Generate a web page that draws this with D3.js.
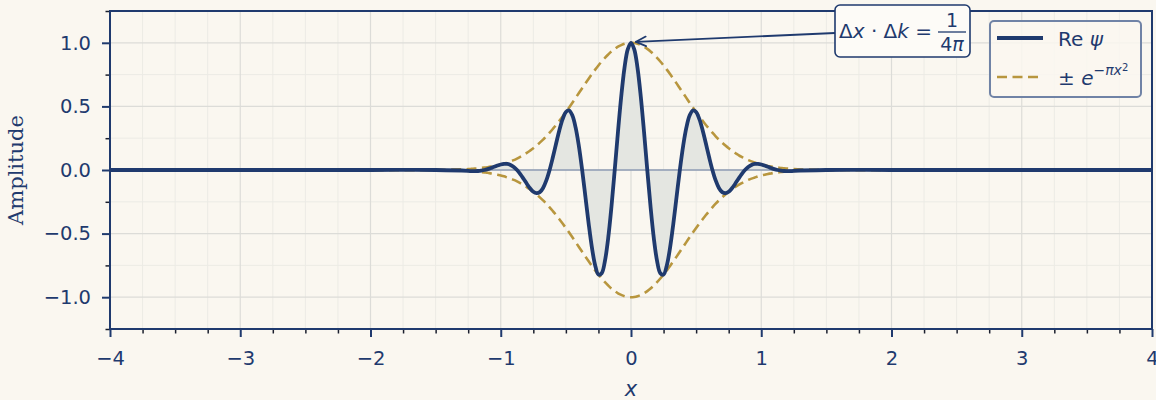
<!DOCTYPE html>
<html>
<head>
<meta charset="utf-8">
<script src="https://cdn.jsdelivr.net/npm/d3@7"></script>
<style>
  html, body { margin: 0; padding: 0; background: #faf7f0; }
  svg { display: block; }
  text { font-family: "DejaVu Sans", sans-serif; fill: #1f3a6e; }
</style>
</head>
<body>
<script>

// Sample positions along x (tails + dense middle)
const xValues = [
  -4, -3, -2, -1.5,
  -1.250, -1.225, -1.200, -1.175, -1.150, -1.125, -1.100, -1.075, -1.050, -1.025,
  -1.000, -0.975, -0.950, -0.925, -0.900, -0.875, -0.850, -0.825, -0.800, -0.775,
  -0.750, -0.725, -0.700, -0.675, -0.650, -0.625, -0.600, -0.575, -0.550, -0.525,
  -0.500, -0.475, -0.450, -0.425, -0.400, -0.375, -0.350, -0.325, -0.300, -0.275,
  -0.250, -0.225, -0.200, -0.175, -0.150, -0.125, -0.100, -0.075, -0.050, -0.025,
  0,
  0.025, 0.050, 0.075, 0.100, 0.125, 0.150, 0.175, 0.200, 0.225, 0.250,
  0.275, 0.300, 0.325, 0.350, 0.375, 0.400, 0.425, 0.450, 0.475, 0.500,
  0.525, 0.550, 0.575, 0.600, 0.625, 0.650, 0.675, 0.700, 0.725, 0.750,
  0.775, 0.800, 0.825, 0.850, 0.875, 0.900, 0.925, 0.950, 0.975, 1.000,
  1.025, 1.050, 1.075, 1.100, 1.125, 1.150, 1.175, 1.200, 1.225, 1.250,
  1.5, 2, 3, 4
];

// Re psi
const reValues = [
  0, 0, 0, 0,
  -0.007, -0.009, -0.009, -0.008, -0.005, 0, 0.007, 0.016, 0.025, 0.035,
  0.043, 0.048, 0.048, 0.040, 0.024, 0, -0.032, -0.069, -0.108, -0.144,
  -0.171, -0.182, -0.174, -0.141, -0.082, 0, 0.100, 0.208, 0.313, 0.400,
  0.456, 0.468, 0.428, 0.333, 0.187, 0, -0.210, -0.422, -0.610, -0.750,
  -0.822, -0.811, -0.714, -0.534, -0.288, 0, 0.300, 0.578, 0.803, 0.949,
  1.000,
  0.949, 0.803, 0.578, 0.300, 0, -0.288, -0.534, -0.714, -0.811, -0.822,
  -0.750, -0.610, -0.422, -0.210, 0, 0.187, 0.333, 0.428, 0.468, 0.456,
  0.400, 0.313, 0.208, 0.100, 0, -0.082, -0.141, -0.174, -0.182, -0.171,
  -0.144, -0.108, -0.069, -0.032, 0, 0.024, 0.040, 0.048, 0.048, 0.043,
  0.035, 0.025, 0.016, 0.007, 0, -0.005, -0.008, -0.009, -0.009, -0.007,
  0, 0, 0, 0
];

// Upper envelope (lower one is its mirror)
const envelopeValues = [
  0, 0, 0, 0.001,
  0.007, 0.009, 0.011, 0.013, 0.016, 0.019, 0.022, 0.027, 0.031, 0.037,
  0.043, 0.050, 0.059, 0.068, 0.078, 0.090, 0.103, 0.118, 0.134, 0.152,
  0.171, 0.192, 0.215, 0.239, 0.265, 0.293, 0.323, 0.354, 0.387, 0.421,
  0.456, 0.492, 0.529, 0.567, 0.605, 0.643, 0.681, 0.718, 0.754, 0.789,
  0.822, 0.853, 0.882, 0.908, 0.932, 0.952, 0.969, 0.982, 0.992, 0.998,
  1.000,
  0.998, 0.992, 0.982, 0.969, 0.952, 0.932, 0.908, 0.882, 0.853, 0.822,
  0.789, 0.754, 0.718, 0.681, 0.643, 0.605, 0.567, 0.529, 0.492, 0.456,
  0.421, 0.387, 0.354, 0.323, 0.293, 0.265, 0.239, 0.215, 0.192, 0.171,
  0.152, 0.134, 0.118, 0.103, 0.090, 0.078, 0.068, 0.059, 0.050, 0.043,
  0.037, 0.031, 0.027, 0.022, 0.019, 0.016, 0.013, 0.011, 0.009, 0.007,
  0.001, 0, 0, 0
];

// Tick values
const xTicks = [-4, -3, -2, -1, 0, 1, 2, 3, 4];
const xMinorTicks = [-3.75, -3.5, -3.25, -2.75, -2.5, -2.25, -1.75, -1.5, -1.25,
  -0.75, -0.5, -0.25, 0.25, 0.5, 0.75, 1.25, 1.5, 1.75, 2.25, 2.5, 2.75,
  3.25, 3.5, 3.75];
const yTicks = [-1.0, -0.5, 0.0, 0.5, 1.0];
const yMinorTicks = [-1.25, -0.75, -0.25, 0.25, 0.75, 1.25];

// Colours
const navy = "#1f3a6e";
const gold = "#b8963e";

// Svg size and plot area
const width = 1156;
const height = 400;
const plotLeft = 110, plotRight = 1152, plotTop = 11, plotBottom = 329;

const svg = d3.select("body").append("svg")
  .attr("width", width)
  .attr("height", height)
  .attr("viewBox", [0, 0, width, height]);

svg.append("rect").attr("width", width).attr("height", height).attr("fill", "#faf7f0");

const xScale = d3.scaleLinear().domain([-4, 4]).range([plotLeft, plotRight]);
const yScale = d3.scaleLinear().domain([-1.25, 1.25]).range([plotBottom, plotTop]);

const fmtMinus = s => s.replace("-", "\u2212");

// Grid lines (minor first, then major)
const grid = svg.append("g");
grid.selectAll(".gxm").data(xMinorTicks).enter().append("line")
  .attr("x1", d => xScale(d)).attr("x2", d => xScale(d))
  .attr("y1", plotTop).attr("y2", plotBottom)
  .attr("stroke", "#ecebe5").attr("stroke-width", 1);
grid.selectAll(".gym").data(yMinorTicks).enter().append("line")
  .attr("y1", d => yScale(d)).attr("y2", d => yScale(d))
  .attr("x1", plotLeft).attr("x2", plotRight)
  .attr("stroke", "#ecebe5").attr("stroke-width", 1);
grid.selectAll(".gx").data(xTicks).enter().append("line")
  .attr("x1", d => xScale(d)).attr("x2", d => xScale(d))
  .attr("y1", plotTop).attr("y2", plotBottom)
  .attr("stroke", "#dcdcd8").attr("stroke-width", 1.2);
grid.selectAll(".gy").data(yTicks).enter().append("line")
  .attr("y1", d => yScale(d)).attr("y2", d => yScale(d))
  .attr("x1", plotLeft).attr("x2", plotRight)
  .attr("stroke", "#dcdcd8").attr("stroke-width", 1.2);

// Data points
const points = xValues.map((x, i) => ({x: x, re: reValues[i], env: envelopeValues[i]}));

// Shaded area between curve and zero
const area = d3.area()
  .x(d => xScale(d.x))
  .y0(yScale(0))
  .y1(d => yScale(d.re))
  .curve(d3.curveCatmullRom);
svg.append("path").attr("d", area(points))
  .attr("fill", "#e4e6e1");

// Zero line
svg.append("line")
  .attr("x1", plotLeft).attr("x2", plotRight)
  .attr("y1", yScale(0)).attr("y2", yScale(0))
  .attr("stroke", "#8e9bb3").attr("stroke-width", 1.5);

// Envelopes
const envUp = d3.line().x(d => xScale(d.x)).y(d => yScale(d.env)).curve(d3.curveCatmullRom);
const envDown = d3.line().x(d => xScale(d.x)).y(d => yScale(-d.env)).curve(d3.curveCatmullRom);
[envUp, envDown].forEach(gen => {
  svg.append("path").attr("d", gen(points))
    .attr("fill", "none").attr("stroke", gold)
    .attr("stroke-width", 2.6).attr("stroke-dasharray", "10,5.5");
});

// Main curve
const line = d3.line().x(d => xScale(d.x)).y(d => yScale(d.re)).curve(d3.curveCatmullRom);
svg.append("path").attr("d", line(points))
  .attr("fill", "none").attr("stroke", navy)
  .attr("stroke-width", 3.8).attr("stroke-linejoin", "round");

// Axes
const xAxis = svg.append("g").attr("transform", `translate(0,${plotBottom})`)
  .call(d3.axisBottom(xScale).tickValues(xTicks).tickSize(8).tickPadding(14)
    .tickFormat(d => fmtMinus(d3.format("d")(d))));
const xAxisMinor = svg.append("g").attr("transform", `translate(0,${plotBottom})`)
  .call(d3.axisBottom(xScale).tickValues(xMinorTicks).tickSize(4.5).tickFormat(""));
const yAxis = svg.append("g").attr("transform", `translate(${plotLeft},0)`)
  .call(d3.axisLeft(yScale).tickValues(yTicks).tickSize(8).tickPadding(11)
    .tickFormat(d => fmtMinus(d3.format(".1f")(d))));
const yAxisMinor = svg.append("g").attr("transform", `translate(${plotLeft},0)`)
  .call(d3.axisLeft(yScale).tickValues(yMinorTicks).tickSize(4.5).tickFormat(""));

[xAxis, yAxis, xAxisMinor, yAxisMinor].forEach(g => g.select(".domain").remove());
[xAxis, yAxis].forEach(g => {
  g.selectAll(".tick line").attr("stroke", navy).attr("stroke-width", 2);
  g.selectAll(".tick text").attr("fill", navy)
    .style("font-size", "19.5px").style("font-family", "DejaVu Sans");
});
[xAxisMinor, yAxisMinor].forEach(g => {
  g.selectAll(".tick line").attr("stroke", "#1a1f2e").attr("stroke-width", 1.5);
});

// Spines
svg.append("rect")
  .attr("x", plotLeft).attr("y", plotTop)
  .attr("width", plotRight - plotLeft).attr("height", plotBottom - plotTop)
  .attr("fill", "none").attr("stroke", navy).attr("stroke-width", 2);

// Axis labels
svg.append("text")
  .attr("transform", `translate(23,${(plotTop + plotBottom) / 2}) rotate(-90)`)
  .attr("text-anchor", "middle")
  .style("font-family", "DejaVu Serif")
  .style("font-size", "21px")
  .text("Amplitude");

svg.append("text")
  .attr("x", xScale(0)).attr("y", 396)
  .attr("text-anchor", "middle")
  .style("font-size", "21px").style("font-style", "italic")
  .text("x");

// Annotation arrow from box to the peak
const tipX = xScale(0) + 5, tipY = yScale(1.0) - 1;
const boxX = 835, boxY = 5, boxW = 135, boxH = 52;
const tailX = boxX, tailY = 33;
svg.append("line")
  .attr("x1", tailX).attr("y1", tailY).attr("x2", tipX).attr("y2", tipY)
  .attr("stroke", navy).attr("stroke-width", 1.8);
const ang = Math.atan2(tipY - tailY, tipX - tailX);
[0.45, -0.45].forEach(a => {
  svg.append("line")
    .attr("x1", tipX).attr("y1", tipY)
    .attr("x2", tipX - 11 * Math.cos(ang + a)).attr("y2", tipY - 11 * Math.sin(ang + a))
    .attr("stroke", navy).attr("stroke-width", 1.8).attr("stroke-linecap", "round");
});

// Annotation box
svg.append("rect")
  .attr("x", boxX).attr("y", boxY).attr("width", boxW).attr("height", boxH)
  .attr("rx", 5).attr("fill", "#fdfbf7").attr("stroke", navy).attr("stroke-width", 1.6);

const ann = svg.append("text").attr("x", 839).attr("y", 38).style("font-size", "20px");
ann.append("tspan").text("\u0394");
ann.append("tspan").style("font-style", "italic").text("x");
ann.append("tspan").text(" \u00b7 \u0394");
ann.append("tspan").style("font-style", "italic").text("k");
ann.append("tspan").text(" =");
svg.append("text").attr("x", 952).attr("y", 27).attr("text-anchor", "middle")
  .style("font-size", "19px").text("1");
svg.append("line").attr("x1", 938).attr("x2", 966).attr("y1", 32).attr("y2", 32)
  .attr("stroke", navy).attr("stroke-width", 1.3);
const den = svg.append("text").attr("x", 952).attr("y", 51).attr("text-anchor", "middle")
  .style("font-size", "19px");
den.append("tspan").text("4");
den.append("tspan").style("font-style", "italic").text("\u03c0");

// Legend
const legend = svg.append("g");
legend.append("rect")
  .attr("x", 990).attr("y", 21).attr("width", 151).attr("height", 76)
  .attr("rx", 4).attr("fill", "#faf7f0").attr("fill-opacity", 0.85)
  .attr("stroke", "#7083a6").attr("stroke-width", 2);
legend.append("line").attr("x1", 997).attr("x2", 1043).attr("y1", 38).attr("y2", 38)
  .attr("stroke", navy).attr("stroke-width", 3.8);
legend.append("line").attr("x1", 997).attr("x2", 1043).attr("y1", 77).attr("y2", 77)
  .attr("stroke", gold).attr("stroke-width", 2.6).attr("stroke-dasharray", "10,5.5");
const l1 = legend.append("text").attr("x", 1058).attr("y", 46).style("font-size", "20px");
l1.append("tspan").text("Re ");
l1.append("tspan").style("font-style", "italic").text("\u03c8");
const l2 = legend.append("text").attr("x", 1058).attr("y", 85).style("font-size", "20px");
l2.append("tspan").text("\u00b1 ");
l2.append("tspan").style("font-style", "italic").text("e");
l2.append("tspan").attr("dy", -10).style("font-size", "14px").style("font-style", "italic").text("\u2212\u03c0x");
l2.append("tspan").attr("dy", -4).style("font-size", "10px").text("2");

</script>
</body>
</html>
